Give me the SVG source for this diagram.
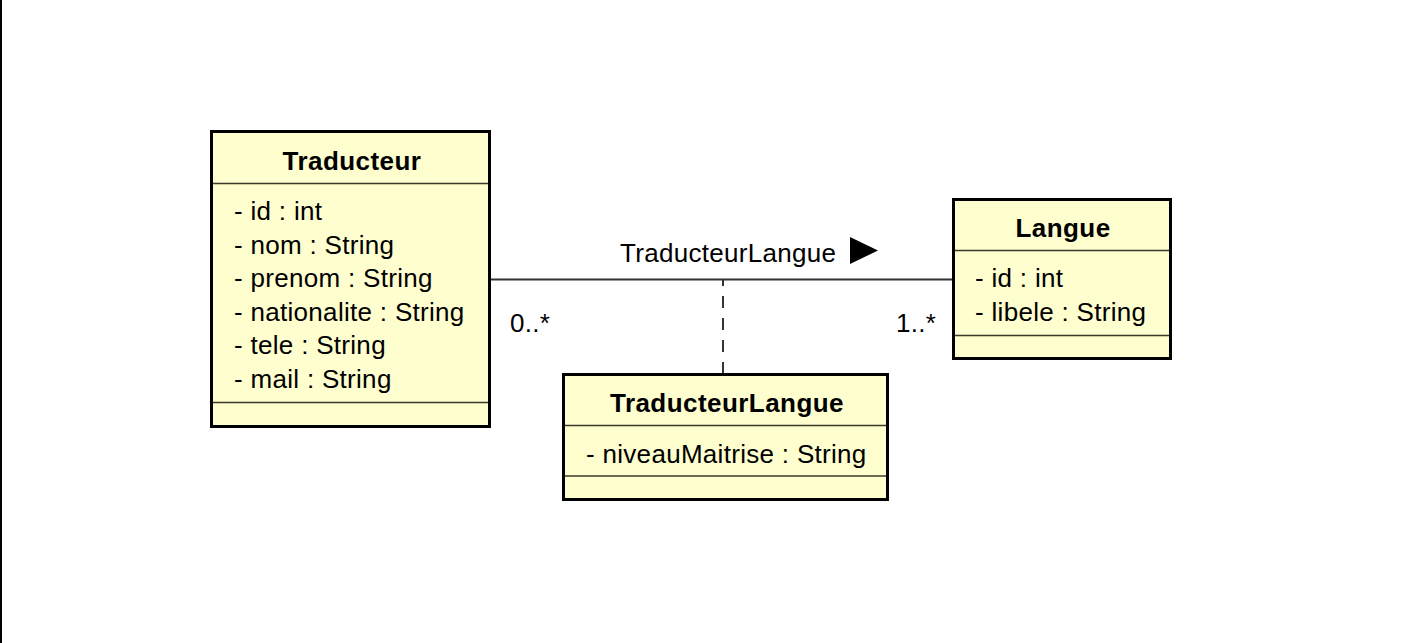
<svg xmlns="http://www.w3.org/2000/svg" width="1420" height="643" viewBox="0 0 1420 643">
<style>
.box{fill:#FEFECE;stroke:#000;stroke-width:3}
.sep{stroke:#3a3a2a;stroke-width:1.5}
.t{font-family:"Liberation Sans",Arial,sans-serif;font-size:26px;fill:#000;letter-spacing:0.3px}
.b{font-weight:bold;text-anchor:middle;letter-spacing:0.45px}
.conn{stroke:#333;stroke-width:2;fill:none}
</style>
<rect x="0" y="0" width="1420" height="643" fill="#fff"/>
<line x1="1" y1="0" x2="1" y2="643" stroke="#000" stroke-width="2"/>
<g id="connectors">
<line class="conn" x1="491" y1="279.5" x2="952" y2="279.5"/>
<line class="conn" x1="723" y1="280" x2="723" y2="373" stroke="#000" stroke-dasharray="12 10" stroke-dashoffset="6"/>
<text class="t" x="620" y="262">TraducteurLangue</text>
<polygon points="850,237 878,250.5 850,264" fill="#000"/>
<text class="t" x="510" y="332">0..*</text>
<text class="t" x="896" y="332">1..*</text>
</g>
<g id="Traducteur">
<rect class="box" x="211.5" y="131.5" width="278" height="295"/>
<line class="sep" x1="213" y1="183.5" x2="488" y2="183.5"/>
<line class="sep" x1="213" y1="402.5" x2="488" y2="402.5"/>
<text class="t b" x="352" y="170">Traducteur</text>
<text class="t" x="234" y="220">- id : int</text>
<text class="t" x="234" y="253.6">- nom : String</text>
<text class="t" x="234" y="287.2">- prenom : String</text>
<text class="t" x="234" y="320.8">- nationalite : String</text>
<text class="t" x="234" y="354.4">- tele : String</text>
<text class="t" x="234" y="388">- mail : String</text>
</g>
<g id="Langue">
<rect class="box" x="953.5" y="199.5" width="217" height="159"/>
<line class="sep" x1="955" y1="250.5" x2="1169" y2="250.5"/>
<line class="sep" x1="955" y1="335.5" x2="1169" y2="335.5"/>
<text class="t b" x="1063" y="237">Langue</text>
<text class="t" x="975" y="287">- id : int</text>
<text class="t" x="975" y="320.5">- libele : String</text>
</g>
<g id="TraducteurLangue">
<rect class="box" x="563.5" y="374.5" width="324" height="125"/>
<line class="sep" x1="565" y1="425.5" x2="886" y2="425.5"/>
<line class="sep" x1="565" y1="476" x2="886" y2="476"/>
<text class="t b" x="727" y="412">TraducteurLangue</text>
<text class="t" x="586" y="463">- niveauMaitrise : String</text>
</g>
</svg>
